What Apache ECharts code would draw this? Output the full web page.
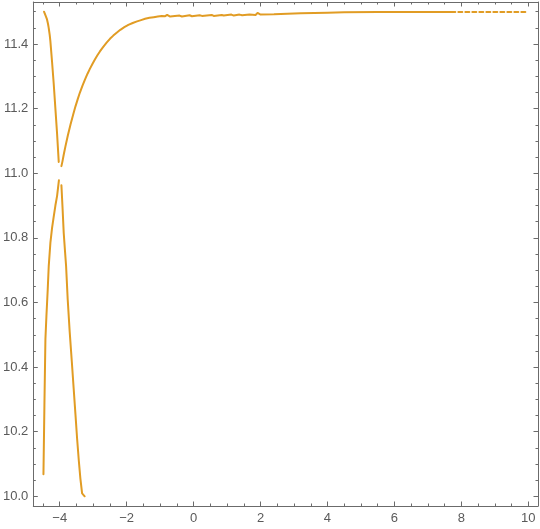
<!DOCTYPE html>
<html>
<head>
<meta charset="utf-8">
<script src="https://cdn.jsdelivr.net/npm/echarts@6/dist/echarts.min.js"></script>
<style>
  html, body { margin: 0; padding: 0; background: #fff; }
  #chart { width: 540px; height: 529px; }
</style>
</head>
<body>
<div id="chart"></div>
<script>
// ---- data ----
const xTicks = [-4, -2, 0, 2, 4, 6, 8, 10];
const yTicks = [10.0, 10.2, 10.4, 10.6, 10.8, 11.0, 11.2, 11.4];

const upperLeft = [
  [-4.47, 11.500], [-4.45, 11.494], [-4.42, 11.487], [-4.38, 11.476],
  [-4.35, 11.462], [-4.33, 11.450], [-4.30, 11.428], [-4.28, 11.409],
  [-4.23, 11.345], [-4.18, 11.277], [-4.13, 11.200], [-4.08, 11.123],
  [-4.03, 11.035]
];

const upperRight = [
  [-3.95, 11.022], [-3.92, 11.036], [-3.88, 11.058], [-3.83, 11.083],
  [-3.76, 11.116], [-3.68, 11.150], [-3.60, 11.181], [-3.53, 11.207],
  [-3.46, 11.230], [-3.40, 11.249], [-3.32, 11.271], [-3.25, 11.289],
  [-3.17, 11.308], [-3.10, 11.323], [-3.02, 11.339], [-2.95, 11.352],
  [-2.87, 11.366], [-2.80, 11.377], [-2.70, 11.391], [-2.60, 11.404],
  [-2.50, 11.416], [-2.40, 11.426], [-2.30, 11.435], [-2.19, 11.444],
  [-2.07, 11.452], [-1.95, 11.459], [-1.82, 11.465], [-1.69, 11.470],
  [-1.57, 11.474], [-1.45, 11.478], [-1.32, 11.481], [-1.19, 11.483],
  [-1.07, 11.485], [-0.95, 11.487], [-0.90, 11.491], [-0.85, 11.486],
  [-0.79, 11.490], [-0.70, 11.485], [-0.42, 11.488], [-0.35, 11.485],
  [-0.12, 11.489], [-0.05, 11.486], [0.18, 11.489], [0.25, 11.487],
  [0.54, 11.490], [0.60, 11.487], [0.84, 11.490], [0.90, 11.488],
  [1.13, 11.491], [1.20, 11.488], [1.37, 11.491], [1.45, 11.489],
  [1.67, 11.491], [1.85, 11.490], [1.91, 11.496], [2.00, 11.491],
  [2.40, 11.492], [2.80, 11.494], [3.20, 11.495], [3.60, 11.496],
  [4.00, 11.497], [4.50, 11.498], [5.50, 11.499], [7.70, 11.499]
];

const upperTail = [[7.70, 11.499], [9.95, 11.499]];

const lowerLeft = [
  [-4.487, 10.068], [-4.458, 10.281], [-4.428, 10.486], [-4.398, 10.558],
  [-4.359, 10.640], [-4.329, 10.712], [-4.279, 10.785], [-4.230, 10.830],
  [-4.180, 10.866], [-4.130, 10.900], [-4.079, 10.930], [-4.025, 10.978]
];

const lowerRight = [
  [-3.950, 10.963], [-3.915, 10.890], [-3.881, 10.815], [-3.845, 10.762],
  [-3.810, 10.712], [-3.762, 10.609], [-3.702, 10.508], [-3.640, 10.418],
  [-3.583, 10.332], [-3.530, 10.253], [-3.481, 10.178], [-3.430, 10.110],
  [-3.383, 10.055], [-3.332, 10.009], [-3.255, 10.000]
];

// ---- styling / layout ----
const X_MIN = -4.79, X_MAX = 10.29;
const Y_MIN = 9.97, Y_MAX = 11.53;
const LINE_COLOR = '#e19c24';
const FRAME = '#6b6b6b';
const LABEL = '#5a5a5a';
const FONT = 'Liberation Sans, Arial, sans-serif';

function minorList(lo, hi, step, majors) {
  const out = [];
  const n0 = Math.ceil(lo / step - 1e-9), n1 = Math.floor(hi / step + 1e-9);
  for (let i = n0; i <= n1; i++) {
    const v = +(i * step).toFixed(4);
    if (!majors.some(m => Math.abs(m - v) < 1e-6)) out.push(v);
  }
  return out;
}
const xMinor = minorList(X_MIN, X_MAX, 0.5, xTicks);
const yMinor = minorList(Y_MIN, Y_MAX, 0.05, yTicks);

const fmtMinus = v => String(v).replace('-', '\u2212');

function xAx(position, ticks, len, withLabel, showLine) {
  return {
    type: 'value', position, min: X_MIN, max: X_MAX,
    axisLine: { show: showLine, onZero: false, lineStyle: { color: FRAME, width: 1 } },
    axisTick: { show: true, inside: true, length: len, customValues: ticks,
                lineStyle: { color: FRAME, width: 1 } },
    axisLabel: withLabel ? {
      show: true, customValues: ticks, margin: 6, color: LABEL,
      fontSize: 13, fontFamily: FONT, formatter: v => fmtMinus(v)
    } : { show: false },
    splitLine: { show: false }
  };
}
function yAx(position, ticks, len, withLabel, showLine) {
  return {
    type: 'value', position, min: Y_MIN, max: Y_MAX,
    axisLine: { show: showLine, onZero: false, lineStyle: { color: FRAME, width: 1 } },
    axisTick: { show: true, inside: true, length: len, customValues: ticks,
                lineStyle: { color: FRAME, width: 1 } },
    axisLabel: withLabel ? {
      show: true, customValues: ticks, margin: 5, color: LABEL,
      fontSize: 13, fontFamily: FONT, formatter: v => Number(v).toFixed(1)
    } : { show: false },
    splitLine: { show: false }
  };
}

function lineSeries(data, dashed) {
  return {
    type: 'line', data, xAxisIndex: 0, yAxisIndex: 0,
    showSymbol: false, symbol: 'none', smooth: false, animation: false,
    lineStyle: { color: LINE_COLOR, width: 2, type: dashed ? [4, 3] : 'solid',
                 join: 'round', cap: 'round' },
    z: 5
  };
}

const chart = echarts.init(document.getElementById('chart'));
chart.setOption({
  animation: false,
  grid: { left: 32, right: 2, top: 2, bottom: 23 },
  xAxis: [
    xAx('bottom', xTicks, 4.5, true, true),
    xAx('bottom', xMinor, 2.5, false, false),
    xAx('top', xTicks, 4.5, false, true),
    xAx('top', xMinor, 2.5, false, false)
  ],
  yAxis: [
    yAx('left', yTicks, 4.5, true, true),
    yAx('left', yMinor, 2.5, false, false),
    yAx('right', yTicks, 4.5, false, true),
    yAx('right', yMinor, 2.5, false, false)
  ],
  series: [
    lineSeries(upperLeft),
    lineSeries(upperRight),
    lineSeries(upperTail, true),
    lineSeries(lowerLeft),
    lineSeries(lowerRight)
  ]
});
</script>
</body>
</html>
